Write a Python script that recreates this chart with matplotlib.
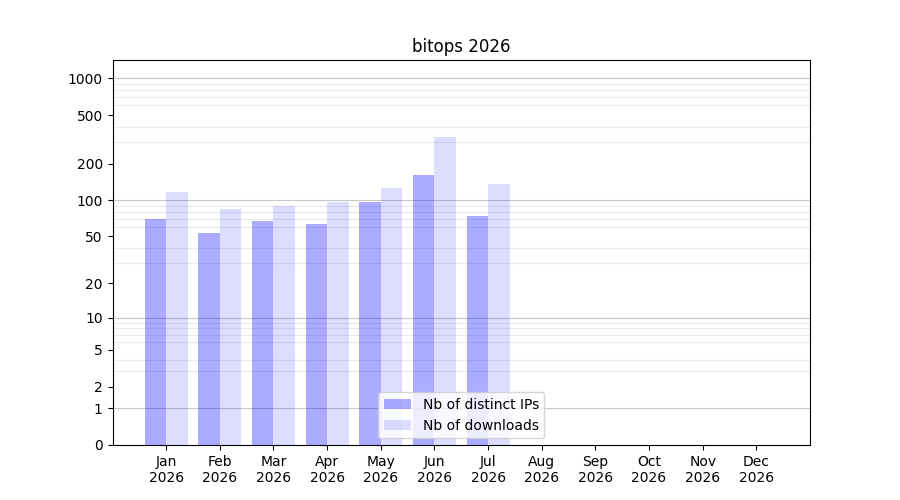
import numpy as np
import matplotlib
matplotlib.use('Agg')
import matplotlib.pyplot as plt

month_labels = ['Jan\n2026', 'Feb\n2026', 'Mar\n2026', 'Apr\n2026', 'May\n2026', 'Jun\n2026',
                'Jul\n2026', 'Aug\n2026', 'Sep\n2026', 'Oct\n2026', 'Nov\n2026', 'Dec\n2026']
distinct_ips = [70, 53, 67, 63, 96, 162, 74]
downloads = [117, 85, 90, 96, 126, 332, 136]
ytick_values = [0, 1, 2, 5, 10, 20, 50, 100, 200, 500, 1000]
decades = [1, 10, 100, 1000]


def fwd(y):
    return np.log10(np.maximum(y, 0) + 1)


def inv(y):
    return 10 ** y - 1


fig, ax = plt.subplots(figsize=(9, 5), dpi=100)
ax.set_yscale('function', functions=(fwd, inv))

pos = np.arange(1, len(month_labels) + 1)
n = len(distinct_ips)
w = 0.4
ax.bar(pos[:n], distinct_ips, width=-w, align='edge', color='blue', alpha=0.33,
       label='Nb of distinct IPs')
ax.bar(pos[:n], downloads, width=w, align='edge', color='blue', alpha=0.135,
       label='Nb of downloads')

ax.set_xlim(0, len(month_labels) + 1)
ax.set_xticks(pos)
ax.set_xticklabels(month_labels)
ax.set_ylim(0, 1415)

ax.set_yticks(ytick_values)
ax.set_yticklabels([str(v) for v in ytick_values])
minor = [m * d for d in [1, 10, 100] for m in range(2, 10)]
ax.set_yticks(minor, minor=True)
ax.tick_params(axis='y', which='minor', length=0)
ax.grid(which='minor', axis='y', color='#ebebeb', linewidth=0.8)
for d in decades:
    ax.axhline(d, color='#c8c8c8', linewidth=0.8, zorder=0.5)
ax.set_axisbelow(True)

ax.set_title('bitops 2026')
ax.legend(loc='lower center')

fig.savefig('out.png')
